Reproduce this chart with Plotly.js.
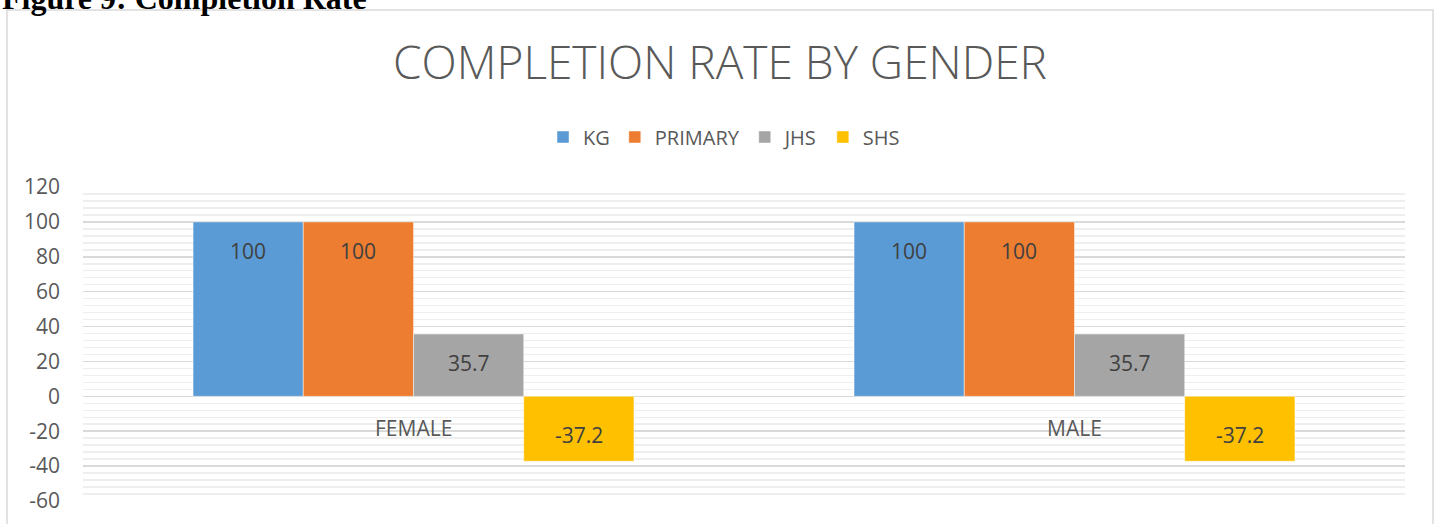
<!DOCTYPE html>
<html>
<head>
<meta charset="utf-8">
<script src="https://cdn.plot.ly/plotly-3.0.1.min.js"></script>
<style>
  html, body { margin: 0; padding: 0; background: #fff; }
  #chart { width: 1440px; height: 524px; }
</style>
</head>
<body>
<div id="chart"></div>
<script>
const categories = ["FEMALE", "MALE"];
const seriesNames = ["KG", "PRIMARY", "JHS", "SHS"];
const kg = [100, 100];
const primary = [100, 100];
const jhs = [35.7, 35.7];
const shs = [-37.2, -37.2];
const colors = ["#5B9BD5", "#ED7D31", "#A5A5A5", "#FFC000"];
const yTicks = [-60, -40, -20, 0, 20, 40, 60, 80, 100, 120];

const allSeries = [kg, primary, jhs, shs];
const font = "Open Sans, Lato, sans-serif";
const txtColor = "#595959";

const traces = allSeries.map((vals, i) => ({
  type: "bar",
  name: seriesNames[i],
  x: categories,
  y: vals,
  marker: { color: colors[i], line: { color: "rgba(255,255,255,0.6)", width: 0.75 } },
  hoverinfo: "none"
}));

// data labels (inside end), positioned via category offsets
const bargap = 0.333;
const nS = allSeries.length;
const barW = (1 - bargap) / nS;
const annotations = [];
allSeries.forEach((vals, i) => {
  const off = -((1 - bargap) / 2) + barW * (i + 0.5);
  vals.forEach((v, j) => {
    annotations.push({
      x: j + off, y: v, xref: "x", yref: "y",
      text: String(v), showarrow: false,
      yanchor: "middle", yshift: v >= 0 ? -29 : 26,
      font: { family: font, size: 21, color: "#404040" }
    });
  });
});
// category labels next to zero line
categories.forEach((c, j) => {
  annotations.push({
    x: j, y: 0, xref: "x", yref: "y", text: c, showarrow: false,
    yanchor: "middle", yshift: -32,
    font: { family: font, size: 21, color: txtColor }
  });
});
// figure caption (clipped at top, as in the source page)
annotations.push({
  xref: "paper", yref: "paper", x: (0 - 83) / 1322, y: (501 - 18) / 314,
  xanchor: "left", yanchor: "bottom", showarrow: false,
  text: "<b>Figure 9: Completion Rate</b>",
  font: { family: "Liberation Serif, Times New Roman, serif", size: 32, color: "#000" }
});

const layout = {
  width: 1440, height: 524,
  margin: { l: 83, r: 35, t: 187, b: 23, pad: 0, autoexpand: false },
  paper_bgcolor: "#ffffff", plot_bgcolor: "#ffffff",
  barmode: "group", bargap: bargap, bargroupgap: 0,
  showlegend: true,
  title: {
    text: "COMPLETION RATE BY GENDER",
    x: 0.5, xref: "container", xanchor: "center",
    y: 1 - 63 / 524, yref: "container", yanchor: "middle",
    font: { family: "Open Sans, sans-serif", size: 46, color: txtColor, weight: 300 }
  },
  legend: {
    orientation: "h", xref: "paper", x: (724 - 83) / 1322, xanchor: "center", y: 1 + 50 / 314, yanchor: "middle",
    font: { family: font, size: 20, color: txtColor },
    itemwidth: 30, traceorder: "normal", itemclick: false
  },
  xaxis: {
    type: "category", showticklabels: false, showgrid: false, zeroline: false,
    showline: false, ticks: "", fixedrange: true
  },
  yaxis: {
    range: [-60, 120], tickvals: yTicks, ticktext: yTicks.map(String),
    showgrid: true, gridcolor: "#d9d9d9", gridwidth: 1.5,
    zeroline: true, zerolinecolor: "#d9d9d9", zerolinewidth: 1.5,
    minor: { dtick: 4, tick0: 0, showgrid: true, gridcolor: "#eeeeee", gridwidth: 1.5, ticks: "" },
    showline: false, ticks: "", ticklabelstandoff: 22,
    tickfont: { family: font, size: 21, color: txtColor },
    fixedrange: true
  },
  annotations: annotations,
  shapes: [{
    type: "rect", xref: "paper", yref: "paper",
    x0: (7 - 83) / 1322, x1: (1433 - 83) / 1322,
    y0: (501 - 540) / 314, y1: (501 - 10) / 314,
    line: { color: "#d9d9d9", width: 1.5 }, fillcolor: "rgba(0,0,0,0)", layer: "below"
  }]
};

Plotly.newPlot("chart", traces, layout, { displayModeBar: false, staticPlot: true });
</script>
</body>
</html>
